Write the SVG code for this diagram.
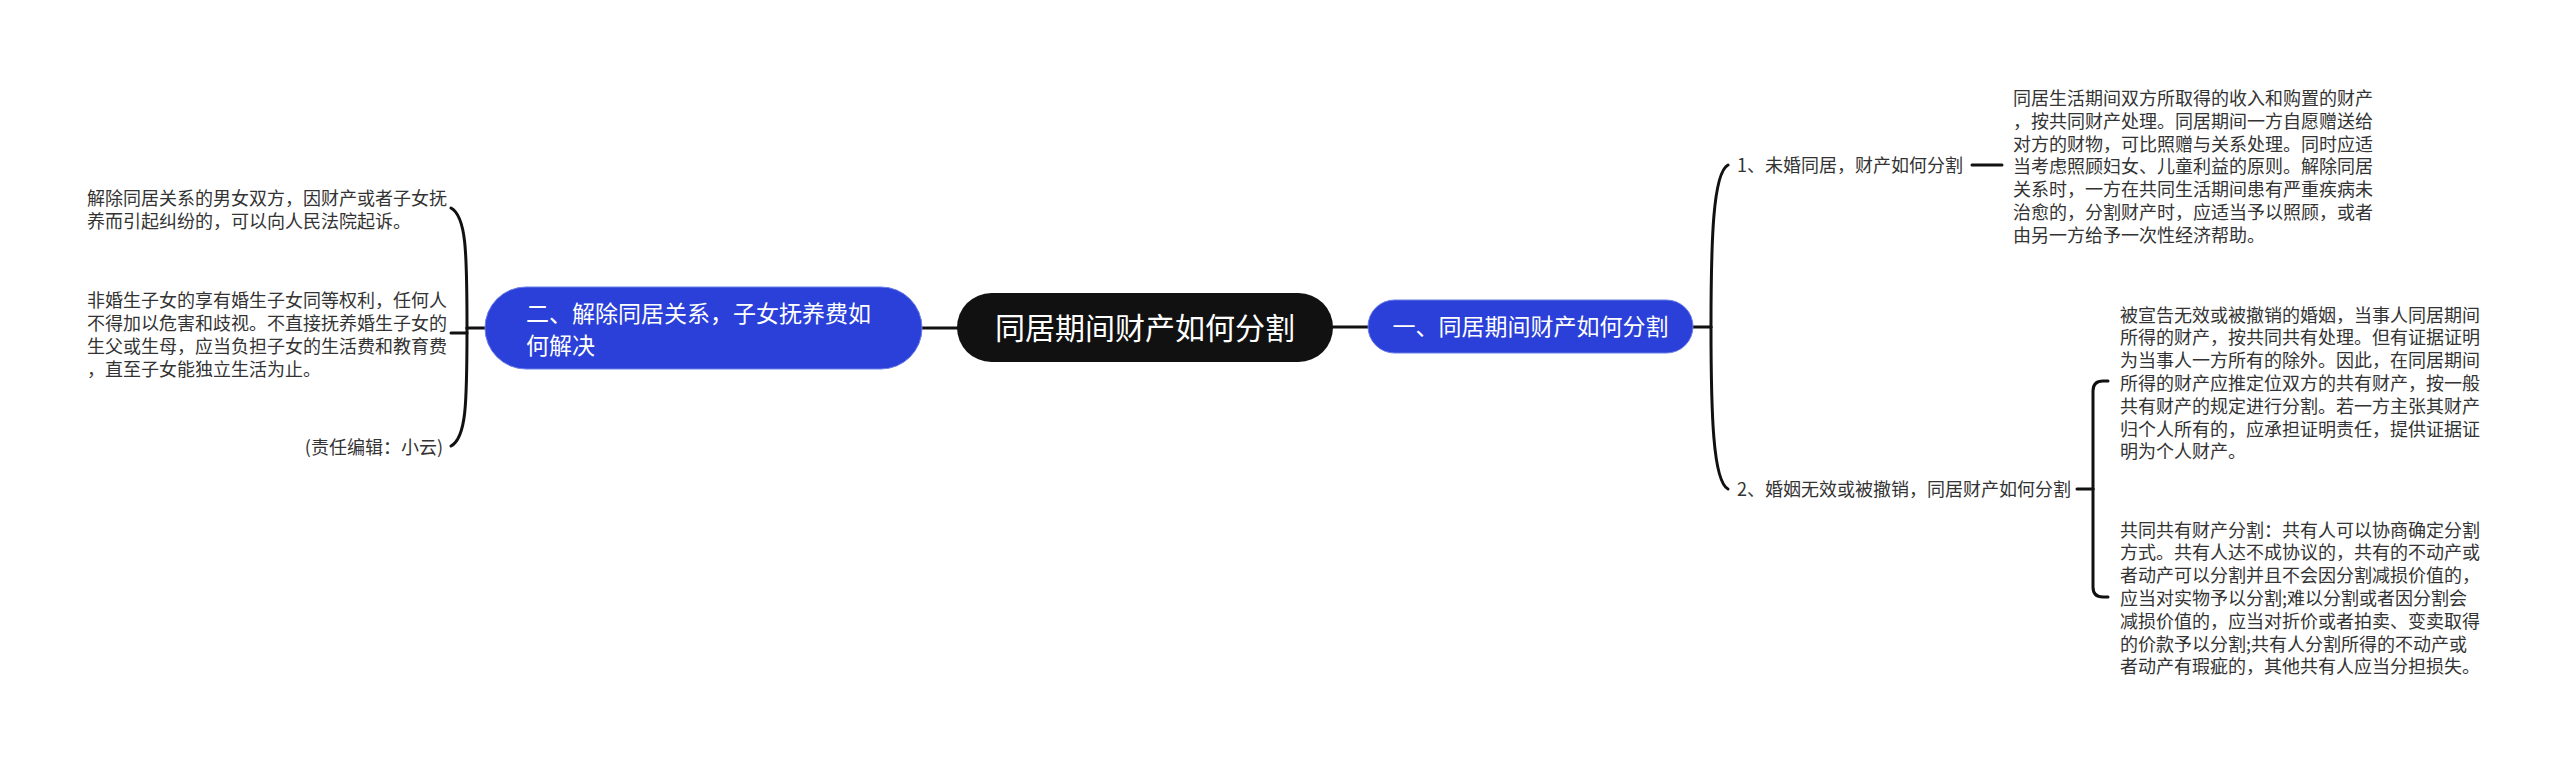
<svg xmlns="http://www.w3.org/2000/svg" width="2560" height="763" viewBox="0 0 2560 763">
<style>
text{font-family:"Noto Sans CJK SC","Noto Sans",sans-serif}
.root{fill:#111111}
.main{fill:#2a40d8;stroke:#6a7ce8;stroke-width:1}
.t-root{fill:#ffffff;font-size:30px}
.t-main{fill:#ffffff;font-size:23px}
.t-leaf{fill:#333333;font-size:18px}
.conn{fill:none;stroke:#111111;stroke-width:3;stroke-linecap:round}
</style>
<rect width="2560" height="763" fill="#ffffff"/>
<g id="connectors">
<path class="conn" d="M922,328 L957,328"/>
<path class="conn" d="M1333,327 L1368,327"/>
<path class="conn" d="M485,328 L467,328"/>
<path class="conn" d="M467,328 C467,250 466,216 451,208"/>
<path class="conn" d="M467,328 C467,406 466,438 451,446"/>
<path class="conn" d="M467,333 L451,333"/>
<path class="conn" d="M1693,327 L1711,327"/>
<path class="conn" d="M1711,327 C1711,240 1713,173 1728,165"/>
<path class="conn" d="M1711,327 C1711,414 1713,481 1728,489"/>
<path class="conn" d="M1972,165 L2002,165"/>
<path class="conn" d="M2077,489 L2093,489"/>
<path class="conn" d="M2093,489 L2093,391 Q2093,381 2103,381 L2108,381"/>
<path class="conn" d="M2093,489 L2093,587 Q2093,597 2103,597 L2108,597"/>
</g>
<g id="root">
<rect class="root" x="957" y="293" width="376" height="69" rx="34.5"/>
<text class="t-root" x="1145" y="339" text-anchor="middle">同居期间财产如何分割</text>
</g>
<g id="node-left">
<rect class="main" x="485" y="287" width="437" height="82" rx="41"/>
<text class="t-main" x="526" y="321.5">二、解除同居关系，子女抚养费如</text>
<text class="t-main" x="526" y="353.5">何解决</text>
</g>
<g id="node-right">
<rect class="main" x="1368" y="300" width="325" height="53" rx="26.5"/>
<text class="t-main" x="1530.5" y="335" text-anchor="middle">一、同居期间财产如何分割</text>
</g>
<g id="leaf-left-1">
<text class="t-leaf" x="87" y="204.5">解除同居关系的男女双方，因财产或者子女抚</text>
<text class="t-leaf" x="87" y="227.5">养而引起纠纷的，可以向人民法院起诉。</text>
</g>
<g id="leaf-left-2">
<text class="t-leaf" x="87" y="306.5">非婚生子女的享有婚生子女同等权利，任何人</text>
<text class="t-leaf" x="87" y="329.5">不得加以危害和歧视。不直接抚养婚生子女的</text>
<text class="t-leaf" x="87" y="352.5">生父或生母，应当负担子女的生活费和教育费</text>
<text class="t-leaf" x="87" y="375.5">，直至子女能独立生活为止。</text>
</g>
<g id="leaf-left-3">
<text class="t-leaf" x="443" y="453.5" text-anchor="end">(责任编辑：小云)</text>
</g>
<g id="sub-1">
<text class="t-leaf" x="1737" y="171.5">1、未婚同居，财产如何分割</text>
</g>
<g id="sub-2">
<text class="t-leaf" x="1737" y="495.5">2、婚姻无效或被撤销，同居财产如何分割</text>
</g>
<g id="leaf-right-1">
<text class="t-leaf" x="2013" y="105">同居生活期间双方所取得的收入和购置的财产</text>
<text class="t-leaf" x="2013" y="127.8">，按共同财产处理。同居期间一方自愿赠送给</text>
<text class="t-leaf" x="2013" y="150.6">对方的财物，可比照赠与关系处理。同时应适</text>
<text class="t-leaf" x="2013" y="173.4">当考虑照顾妇女、儿童利益的原则。解除同居</text>
<text class="t-leaf" x="2013" y="196.2">关系时，一方在共同生活期间患有严重疾病未</text>
<text class="t-leaf" x="2013" y="219">治愈的，分割财产时，应适当予以照顾，或者</text>
<text class="t-leaf" x="2013" y="241.8">由另一方给予一次性经济帮助。</text>
</g>
<g id="leaf-right-2">
<text class="t-leaf" x="2120" y="321.5">被宣告无效或被撤销的婚姻，当事人同居期间</text>
<text class="t-leaf" x="2120" y="344.3">所得的财产，按共同共有处理。但有证据证明</text>
<text class="t-leaf" x="2120" y="367.1">为当事人一方所有的除外。因此，在同居期间</text>
<text class="t-leaf" x="2120" y="389.9">所得的财产应推定位双方的共有财产，按一般</text>
<text class="t-leaf" x="2120" y="412.7">共有财产的规定进行分割。若一方主张其财产</text>
<text class="t-leaf" x="2120" y="435.5">归个人所有的，应承担证明责任，提供证据证</text>
<text class="t-leaf" x="2120" y="458.3">明为个人财产。</text>
</g>
<g id="leaf-right-3">
<text class="t-leaf" x="2120" y="536.5">共同共有财产分割：共有人可以协商确定分割</text>
<text class="t-leaf" x="2120" y="559.3">方式。共有人达不成协议的，共有的不动产或</text>
<text class="t-leaf" x="2120" y="582.1">者动产可以分割并且不会因分割减损价值的，</text>
<text class="t-leaf" x="2120" y="604.9">应当对实物予以分割;难以分割或者因分割会</text>
<text class="t-leaf" x="2120" y="627.7">减损价值的，应当对折价或者拍卖、变卖取得</text>
<text class="t-leaf" x="2120" y="650.5">的价款予以分割;共有人分割所得的不动产或</text>
<text class="t-leaf" x="2120" y="673.3">者动产有瑕疵的，其他共有人应当分担损失。</text>
</g>
</svg>
